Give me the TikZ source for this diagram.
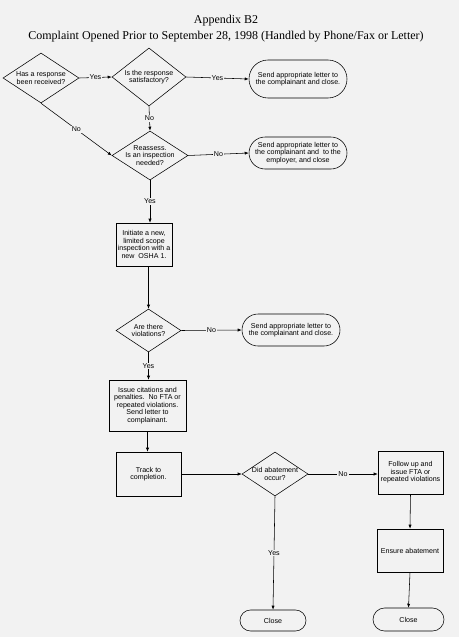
\documentclass[tikz,border=0pt]{standalone}
\usepackage{fontspec}
\setmainfont{Liberation Serif}
\newfontfamily\arialfont{Liberation Sans}
\usetikzlibrary{shapes.geometric,shapes.misc,arrows.meta}
\definecolor{paper}{RGB}{242,242,242}
\tikzset{
  smallfont/.style={font=\arialfont\fontsize{7.1}{7.6}\selectfont},
  txt/.style={smallfont, align=center, inner sep=0pt},
  dia/.style={diamond, draw, inner sep=0pt},
  boxn/.style={rectangle, draw, inner sep=0pt, smallfont, align=center},
  term/.style={rounded rectangle, draw, inner sep=0pt, smallfont, align=center},
  conn/.style={draw, line width=0.55pt, -{Latex[length=4pt,width=3.2pt]}},
  lbl/.style={fill=paper, inner sep=1pt, smallfont}
}
\begin{document}
\begin{tikzpicture}[x=1pt,y=-1pt, line width=0.55pt]
\fill[paper] (0,0) rectangle (459,637);
\useasboundingbox (0,0) rectangle (459,637);
% title
\node[font=\fontsize{12}{14}\selectfont, inner sep=0pt] (t0) at (226,21) {Appendix B2};
\node[font=\fontsize{12}{14}\selectfont, inner sep=0pt] (t00) at (226,36.5) {Complaint Opened Prior to September 28, 1998 (Handled by Phone/Fax or Letter)};
% diamonds
\node[dia, minimum width=76pt, minimum height=50pt] (d1) at (41,78) {};
\node[txt] (d1t) at (d1) {Has a response\\been received?};
\node[dia, minimum width=74pt, minimum height=58pt] (d2) at (149,77) {};
\node[txt] (d2t) at (d2) {Is the response\\satisfactory?};
\node[dia, minimum width=76pt, minimum height=49pt] (d3) at (150,155.5) {};
\node[txt] (d3t) at (d3) {Reassess.\\Is an inspection\\needed?};
\node[dia, minimum width=65pt, minimum height=43pt] (d4) at (148.5,330.5) {};
\node[txt] (d4t) at (d4) {Are there\\violations?};
\node[dia, minimum width=66pt, minimum height=44pt] (d5) at (275,474) {};
\node[txt] (d5t) at (d5) {Did abatement\\occur?};
% terminals
\node[term, minimum width=98pt, minimum height=38pt] (t1) at (298,79) {Send appropriate letter to\\the complainant and close.};
\node[term, minimum width=98pt, minimum height=32pt] (t2) at (298,153) {Send appropriate letter to\\the complainant and\ \ to the\\employer, and close};
\node[term, minimum width=98pt, minimum height=32pt] (t3) at (291,330) {Send appropriate letter to\\the complainant and close.};
\node[term, minimum width=66pt, minimum height=21pt] (c1) at (273,620.5) {Close};
\node[term, minimum width=71pt, minimum height=23pt] (c2) at (408.5,619.5) {Close};
% boxes
\node[boxn, minimum width=56pt, minimum height=43pt] (b1) at (144,244.5) {Initiate a new,\\limited scope\\inspection with a\\new\ \ OSHA 1.};
\node[boxn, minimum width=77pt, minimum height=51pt] (b2) at (147.5,405.5) {Issue citations and\\penalties.\ \ No FTA or\\repeated violations.\\Send letter to\\complainant.};
\node[boxn, minimum width=65pt, minimum height=44pt] (b3) at (148.5,474) {Track to\\completion.};
\node[boxn, minimum width=65pt, minimum height=43pt] (b4) at (410.5,472.5) {Follow up and\\issue FTA or\\repeated violations};
\node[boxn, minimum width=66pt, minimum height=43pt] (b5) at (410,550.5) {Ensure abatement};
% connectors
\draw[conn] (d1.east) -- node[lbl] {Yes} (d2.west);
\draw[conn] (d2.east) -- node[lbl] {Yes} (t1.west);
\draw[conn] (d2.south) -- node[lbl] {No} (d3.north);
\draw[conn] (d1.south) -- node[lbl] {No} (d3.west);
\draw[conn] (d3.east) -- node[lbl] {No} (t2.west);
\draw[conn] (d3.south) -- node[lbl] {Yes} (d3.south |- b1.north);
\draw[conn] (d4.north |- b1.south) -- (d4.north);
\draw[conn] (d4.east) -- node[lbl] {No} (t3.west);
\draw[conn] (d4.south) -- node[lbl] {Yes} (d4.south |- b2.north);
\draw[conn] (b2.south) -- (b2.south |- b3.north);
\draw[conn] (b3.east) -- (d5.west);
\draw[conn] (d5.east) -- node[lbl] {No} (d5.east -| b4.west);
\draw[conn] (d5.south) -- node[lbl] {Yes} (c1.north);
\draw[conn] (b4.south) -- (b5.north);
\draw[conn] (b5.south) -- (c2.north);
\end{tikzpicture}
\end{document}
